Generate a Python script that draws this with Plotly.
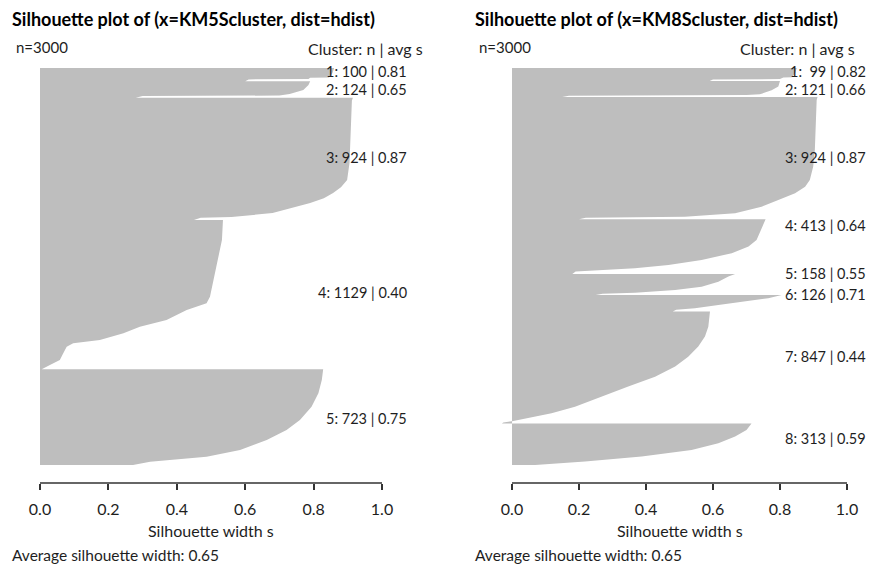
import plotly.graph_objects as go

W, H = 875, 572

# ---------------- data ----------------
LEFT_TITLE = "Silhouette plot of (x=KM5Scluster, dist=hdist)"
RIGHT_TITLE = "Silhouette plot of (x=KM8Scluster, dist=hdist)"

LEFT_N = [100, 124, 924, 1129, 723]
LEFT_AVG = ["0.81", "0.65", "0.87", "0.40", "0.75"]
LEFT_RANKS = [
    [0, 40, 72, 74, 84, 86, 100],
    [0, 28, 66, 96, 108, 112, 124],
    [0, 22, 400, 494, 622, 677, 721, 760, 796, 849, 872, 902, 908, 924],
    [0, 152, 403, 580, 630, 681, 756, 807, 857, 907, 932, 958, 1008, 1059, 1096, 1120, 1129],
    [0, 81, 181, 282, 383, 459, 534, 610, 660, 698, 723],
]
LEFT_S = [
    [0.86, 0.855, 0.845, 0.79, 0.785, 0.61, 0.60],
    [0.79, 0.785, 0.77, 0.73, 0.70, 0.30, 0.28],
    [0.915, 0.912, 0.906, 0.905, 0.898, 0.88, 0.857, 0.83, 0.79, 0.71, 0.68, 0.56, 0.47, 0.45],
    [0.535, 0.532, 0.512, 0.497, 0.487, 0.429, 0.370, 0.292, 0.244, 0.175, 0.097, 0.078, 0.068, 0.058, 0.029, 0.01, 0.005],
    [0.828, 0.824, 0.814, 0.794, 0.760, 0.721, 0.663, 0.585, 0.487, 0.322, 0.272],
]

RIGHT_N = [99, 121, 924, 413, 158, 126, 847, 313]
RIGHT_AVG = ["0.82", "0.66", "0.87", "0.64", "0.55", "0.71", "0.44", "0.59"]
RIGHT_RANKS = [
    [0, 40, 70, 72, 84, 86, 99],
    [0, 40, 70, 100, 106, 110, 121],
    [0, 22, 400, 526, 626, 677, 727, 778, 828, 878, 904, 912, 924],
    [0, 105, 156, 206, 256, 307, 345, 370, 390, 395, 413],
    [0, 20, 58, 96, 121, 141, 150, 158],
    [0, 25, 51, 76, 101, 112, 126],
    [0, 114, 189, 265, 341, 416, 492, 567, 643, 719, 768, 806, 827, 839, 847],
    [0, 48, 98, 148, 199, 249, 287, 313],
]
RIGHT_S = [
    [0.85, 0.845, 0.835, 0.81, 0.80, 0.60, 0.59],
    [0.80, 0.795, 0.775, 0.74, 0.70, 0.17, 0.15],
    [0.912, 0.9095, 0.904, 0.899, 0.889, 0.875, 0.845, 0.795, 0.745, 0.666, 0.516, 0.22, 0.20],
    [0.757, 0.740, 0.730, 0.706, 0.656, 0.566, 0.467, 0.367, 0.25, 0.19, 0.18],
    [0.666, 0.646, 0.616, 0.566, 0.487, 0.367, 0.27, 0.25],
    [0.805, 0.765, 0.696, 0.616, 0.546, 0.49, 0.48],
    [0.591, 0.586, 0.576, 0.556, 0.526, 0.487, 0.427, 0.347, 0.268, 0.188, 0.118, 0.049, 0.004, -0.026, -0.03],
    [0.715, 0.70, 0.666, 0.616, 0.536, 0.387, 0.218, 0.069],
]

TICK_VALS = [0.0, 0.2, 0.4, 0.6, 0.8, 1.0]
TICK_TEXT = ["0.0", "0.2", "0.4", "0.6", "0.8", "1.0"]
N_TOTAL = "n=3000"
AVG_TEXT = "Average silhouette width: 0.65"

# ---------------- layout helpers ----------------
FONT = "Lato"
GRAY = "#bebebe"
TXT = "#1e1e1e"


def px(x):
    return x / W


def py(y):
    return 1 - y / H


BAR_TOP, BAR_BOT, AX_Y, PLOT_TOP = 68, 465, 483, 60

panels = [
    dict(n=LEFT_N, avg=LEFT_AVG, ranks=LEFT_RANKS, s=LEFT_S, title=LEFT_TITLE,
         x0=40, x1=382, xr=(-0.1, 1.1), xa="x", ya="y", left=10,
         lab_right=409, lab_y=[72, 90, 157, 293, 418], clhead=425),
    dict(n=RIGHT_N, avg=RIGHT_AVG, ranks=RIGHT_RANKS, s=RIGHT_S, title=RIGHT_TITLE,
         x0=512, x1=847, xr=(-0.1, 1.05), xa="x2", ya="y2", left=473,
         lab_right=868, lab_y=[72, 90, 157, 225, 273.5, 294, 356, 438], clhead=857),
]

fig = go.Figure()
annotations = []
shapes = []
layout_axes = {}

for i, p in enumerate(panels):
    # build silhouette outline from the cluster profiles
    xs, ys = [0.0], [0.0]
    off = 0
    for n, rk, sv in zip(p["n"], p["ranks"], p["s"]):
        for r, s in zip(rk, sv):
            xs.append(s)
            ys.append(off + r)
        off += n
    total = off
    xs.append(0.0)
    ys.append(total)
    fig.add_trace(go.Scatter(x=xs, y=ys, fill="toself", fillcolor=GRAY, mode="lines",
                             line=dict(width=0, color=GRAY), hoverinfo="skip",
                             showlegend=False, xaxis=p["xa"], yaxis=p["ya"]))

    # axes
    k = (p["x1"] - p["x0"])  # px per unit
    dl = p["x0"] + p["xr"][0] * k
    dr = p["x0"] + p["xr"][1] * k
    kk = (BAR_BOT - BAR_TOP) / total
    ytop = (PLOT_TOP - BAR_TOP) / kk
    ybot = (AX_Y - BAR_TOP) / kk
    xkey = "xaxis" if i == 0 else "xaxis2"
    ykey = "yaxis" if i == 0 else "yaxis2"
    layout_axes[xkey] = dict(domain=[px(dl), px(dr)], range=list(p["xr"]), anchor=p["ya"],
                             showgrid=False, zeroline=False, showline=False,
                             ticks="outside", ticklen=6, tickwidth=1.5, tickcolor="#333",
                             ticklabelstandoff=6,
                             tickvals=TICK_VALS, ticktext=TICK_TEXT,
                             tickfont=dict(family=FONT, size=16, color=TXT))
    layout_axes[ykey] = dict(domain=[py(AX_Y), py(PLOT_TOP)], range=[ybot, ytop],
                             visible=False, anchor=p["xa"])
    shapes.append(dict(type="line", xref=p["xa"], yref="paper", x0=0, x1=1,
                       y0=py(AX_Y), y1=py(AX_Y), line=dict(color="#333", width=1.5)))

    # texts
    annotations.append(dict(text="<b>" + p["title"] + "</b>", x=px(p["left"]), y=py(19),
                            xref="paper", yref="paper", xanchor="left", yanchor="middle",
                            showarrow=False, font=dict(family=FONT, size=18, color="#000")))
    annotations.append(dict(text=N_TOTAL, x=px(p["left"] + 4), y=py(47), xref="paper", yref="paper",
                            xanchor="left", yanchor="middle", showarrow=False,
                            font=dict(family=FONT, size=15, color=TXT)))
    annotations.append(dict(text="Cluster: n | avg s", x=px(p["clhead"]), y=py(49), xref="paper",
                            yref="paper", xanchor="right", yanchor="middle", showarrow=False,
                            font=dict(family=FONT, size=16, color=TXT)))
    for j, (n, a) in enumerate(zip(p["n"], p["avg"])):
        ns = f"{n:>3}".replace(" ", "\u00a0") if n < 100 else str(n)
        annotations.append(dict(text=f"{j + 1}: {ns} | {a}", x=px(p["lab_right"]), y=py(p["lab_y"][j]),
                                xref="paper", yref="paper", xanchor="right", yanchor="middle",
                                showarrow=False, font=dict(family=FONT, size=14.5, color=TXT)))
    annotations.append(dict(text="Silhouette width s", x=0.5, y=py(530), xref=p["xa"], yref="paper",
                            xanchor="center", yanchor="middle", showarrow=False,
                            font=dict(family=FONT, size=16, color=TXT)))
    annotations.append(dict(text=AVG_TEXT, x=px(p["left"]), y=py(555), xref="paper", yref="paper",
                            xanchor="left", yanchor="middle", showarrow=False,
                            font=dict(family=FONT, size=15.5, color=TXT)))

fig.update_layout(width=W, height=H, margin=dict(l=0, r=0, t=0, b=0),
                  paper_bgcolor="white", plot_bgcolor="white",
                  annotations=annotations, shapes=shapes, showlegend=False, **layout_axes)

fig.write_html("out.html", config={"displayModeBar": False},
               post_script="document.body.style.margin='0px';document.body.style.overflow='hidden';")
